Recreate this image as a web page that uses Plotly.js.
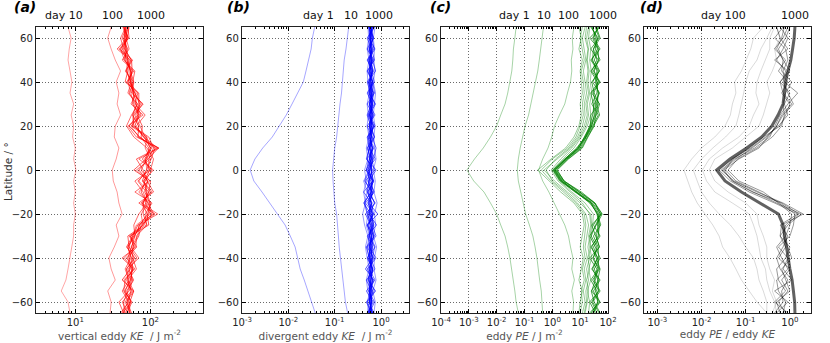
<!DOCTYPE html>
<html>
<head>
<meta charset="utf-8">
<script src="https://cdn.plot.ly/plotly-3.0.1.min.js"></script>
<style>
  html, body { margin: 0; padding: 0; background: #fff; }
  #chart { width: 830px; height: 343px; }
</style>
</head>
<body>
<div id="chart"></div>
<script>
// latitude grid shared by every profile (degrees)
const lat = [-65,-60,-55,-50,-45,-40,-35,-30,-25,-20,-15,-10,-5,0,5,10,15,20,25,30,35,40,45,50,55,60,65];

// (a) vertical eddy KE / J m-2
const keVertDay10  = [8.5,8.0,6.5,7.5,8.0,8.5,9.0,9.5,9.5,10,9.5,10,9.5,10.2,9.5,10,9.2,9.5,8.8,9.5,8.5,9.0,8.5,8.0,8.3,8.8,8.0];
const keVertDay100 = [29,30,27,34,30,28,33,38,35,42,38,36,32,31,35,38,33,34,40,36,38,35,40,34,30,27,30];
const keVertLate = [
  [42,50,45,55,48,60,52,58,65,100,80,95,70,90,85,120,70,55,72,60,55,50,58,45,40,48,45],
  [50,42,56,48,58,45,62,55,80,75,95,70,92,65,100,85,90,60,58,75,62,55,48,55,46,44,50],
  [46,55,48,60,50,70,55,68,70,125,75,105,80,110,70,130,65,50,80,55,65,48,60,42,52,47,43],
  [54,46,58,44,62,48,66,52,88,85,105,62,98,75,90,100,85,72,62,78,58,60,46,58,38,52,50],
  [40,52,42,52,46,55,50,62,60,70,90,80,62,100,110,90,60,48,56,68,50,56,55,48,44,40,47],
  [56,48,60,50,65,58,58,70,75,115,70,110,90,80,65,125,80,65,85,62,68,52,52,54,36,49,52],
  [44,38,52,58,52,66,52,50,82,95,100,88,68,95,95,110,95,58,60,80,56,58,62,44,50,42,48],
  [48,57,44,46,60,42,64,65,90,80,80,95,100,60,88,95,75,78,66,70,70,46,50,52,42,50,44],
  [52,50,55,50,48,62,48,58,68,110,92,75,85,105,78,105,88,56,75,64,52,60,54,50,48,46,51],
  [45,44,50,56,56,52,60,54,95,90,78,100,78,88,102,115,72,52,68,72,62,50,57,56,45,48,47],
  [53,53,60,42,54,50,56,62,72,92,98,84,92,70,92,128,68,70,58,66,59,55,48,50,40,51,44],
  [43,55,46,54,58,56,50,60,78,105,85,90,82,98,84,100,82,62,70,58,60,54,55,46,47,45,46]
];

// (b) divergent eddy KE / J m-2
const keDivDay1  = [0.038,0.032,0.026,0.022,0.018,0.016,0.014,0.011,0.0085,0.0058,0.004,0.0027,0.0018,0.0015,0.0019,0.0028,0.0045,0.0065,0.009,0.012,0.016,0.021,0.024,0.027,0.031,0.033,0.037];
const keDivDay10 = [0.19,0.17,0.16,0.15,0.14,0.135,0.125,0.12,0.115,0.11,0.10,0.095,0.092,0.09,0.095,0.1,0.11,0.115,0.12,0.13,0.14,0.145,0.15,0.16,0.175,0.185,0.2];
const keDivMid = [
  [0.55,0.50,0.58,0.52,0.60,0.54,0.50,0.56,0.48,0.52,0.44,0.50,0.42,0.55,0.50,0.56,0.52,0.58,0.54,0.60,0.52,0.58,0.55,0.60,0.52,0.57,0.55],
  [0.70,0.75,0.66,0.78,0.70,0.72,0.80,0.68,0.76,0.72,0.82,0.70,0.75,0.68,0.78,0.72,0.70,0.74,0.68,0.72,0.76,0.68,0.74,0.70,0.72,0.68,0.74],
  [0.50,0.56,0.52,0.48,0.55,0.50,0.46,0.52,0.44,0.40,0.46,0.42,0.48,0.44,0.52,0.48,0.55,0.50,0.53,0.50,0.56,0.52,0.50,0.55,0.50,0.54,0.52]
];
const keDivLate = [
  [0.62,0.48,0.72,0.55,0.66,0.50,0.75,0.58,0.52,0.70,0.46,0.72,0.55,0.64,0.50,0.70,0.56,0.68,0.52,0.72,0.60,0.50,0.70,0.54,0.66,0.58,0.70],
  [0.52,0.68,0.48,0.74,0.55,0.70,0.50,0.78,0.64,0.50,0.44,0.60,0.46,0.72,0.62,0.50,0.72,0.55,0.68,0.50,0.72,0.66,0.52,0.70,0.50,0.70,0.54],
  [0.70,0.55,0.62,0.48,0.74,0.58,0.66,0.50,0.80,0.55,0.62,0.42,0.66,0.50,0.75,0.56,0.50,0.74,0.58,0.66,0.50,0.72,0.62,0.52,0.74,0.54,0.66],
  [0.56,0.72,0.54,0.66,0.50,0.78,0.55,0.70,0.50,0.85,0.54,0.66,0.44,0.58,0.68,0.78,0.64,0.50,0.74,0.55,0.68,0.52,0.76,0.64,0.55,0.68,0.58],
  [0.66,0.50,0.76,0.52,0.62,0.56,0.48,0.72,0.60,0.46,0.75,0.52,0.70,0.48,0.56,0.66,0.52,0.70,0.55,0.76,0.54,0.66,0.50,0.72,0.62,0.50,0.72],
  [0.55,0.62,0.58,0.70,0.46,0.66,0.72,0.55,0.70,0.60,0.42,0.62,0.54,0.78,0.48,0.56,0.72,0.60,0.50,0.62,0.70,0.55,0.66,0.50,0.70,0.64,0.55],
  [0.63,0.57,0.62,0.60,0.65,0.52,0.60,0.62,0.50,0.68,0.62,0.52,0.66,0.60,0.64,0.56,0.60,0.57,0.64,0.56,0.62,0.66,0.58,0.62,0.56,0.60,0.63],
  [0.52,0.64,0.55,0.58,0.60,0.66,0.56,0.54,0.66,0.58,0.55,0.68,0.60,0.48,0.62,0.66,0.55,0.62,0.60,0.64,0.58,0.55,0.66,0.60,0.62,0.57,0.55],
  [0.60,0.60,0.66,0.54,0.58,0.60,0.64,0.68,0.58,0.52,0.64,0.50,0.55,0.64,0.58,0.52,0.62,0.68,0.58,0.57,0.66,0.60,0.56,0.65,0.58,0.66,0.62],
  [0.66,0.56,0.58,0.62,0.64,0.56,0.58,0.62,0.68,0.62,0.58,0.64,0.52,0.56,0.66,0.60,0.64,0.56,0.62,0.60,0.56,0.64,0.60,0.58,0.60,0.58,0.60],
  [0.56,0.62,0.60,0.66,0.55,0.64,0.62,0.57,0.62,0.56,0.72,0.57,0.68,0.62,0.56,0.64,0.58,0.60,0.66,0.62,0.60,0.58,0.64,0.62,0.57,0.62,0.56],
  [0.61,0.58,0.56,0.60,0.66,0.58,0.55,0.64,0.54,0.66,0.52,0.62,0.64,0.54,0.60,0.58,0.62,0.64,0.56,0.66,0.62,0.60,0.58,0.56,0.64,0.59,0.65]
];

// (c) eddy PE / J m-2
const peDay1   = [0.06,0.05,0.045,0.04,0.035,0.03,0.025,0.02,0.014,0.01,0.006,0.0035,0.0015,0.00085,0.0016,0.0033,0.006,0.01,0.014,0.02,0.025,0.03,0.035,0.038,0.04,0.045,0.05];
const peDay10  = [0.45,0.42,0.4,0.35,0.32,0.28,0.24,0.2,0.15,0.11,0.09,0.075,0.06,0.055,0.06,0.07,0.085,0.105,0.14,0.17,0.2,0.25,0.3,0.34,0.38,0.42,0.48];
const peDay100 = [5.5,5.8,5.0,6.2,5.0,5.5,4.5,3.8,2.8,1.8,1.2,0.75,0.45,0.32,0.45,0.7,0.95,1.2,1.8,2.8,3.5,4.5,5.0,4.8,5.5,5.2,6.0];
const peMid = [
  [12,15,13,16,14,18,15,17,20,16,8,3,1.0,0.6,1.3,4,8,12,15,14,17,15,13,16,14,12,15],
  [15,18,20,17,22,19,24,20,24,22,12,4.5,1.6,0.9,2.0,5,10,16,20,18,22,19,21,18,20,17,20],
  [10,12,11,14,12,15,13,14,16,14,7,2.5,0.9,0.4,1.0,3.5,7,10,13,12,14,13,11,14,12,10,12],
  [20,22,18,24,20,26,22,25,28,30,15,5,1.8,1.0,2.5,6,11,18,24,22,26,23,25,22,24,20,22],
  [14,17,16,20,17,22,19,22,26,24,10,3.5,1.2,0.5,1.5,4.5,9,14,18,16,20,17,19,17,19,15,17],
  [9,10,12,9,11,13,10,12,14,12,6,2,0.8,0.3,0.9,3,6,9,11,10,12,11,10,12,9,11,9]
];
const peLate = [
  [35,22,48,28,50,30,40,25,36,55,28,8,2.2,1.2,3.0,9,16,25,38,50,26,52,30,45,24,48,35],
  [25,45,30,52,26,44,24,48,42,45,22,7,2.0,1.1,2.8,8,15,22,28,32,50,28,48,26,42,28,44],
  [48,28,52,32,40,22,50,35,26,60,32,9,2.5,1.3,3.3,10,17,28,45,26,40,42,24,52,35,40,26],
  [22,50,35,42,52,38,26,44,50,40,25,6.5,1.9,1.05,2.9,7.5,15,24,24,48,32,26,50,32,48,22,52],
  [52,32,25,48,32,52,35,22,38,62,34,10,2.7,1.4,3.6,11,18,30,50,38,46,35,40,28,30,52,38],
  [30,42,40,24,45,28,48,38,46,48,26,7.5,2.1,1.15,3.1,8.5,16,26,32,30,24,46,32,46,44,34,28],
  [40,26,45,44,28,42,30,52,30,52,34,11,2.6,1.5,3.8,12,19,32,36,42,44,38,44,24,52,30,46],
  [28,52,26,35,44,46,44,30,55,42,24,7,2.3,1.25,3.2,9,14,23,34,36,30,50,26,40,30,44,24]
];

// (d) eddy PE / eddy KE
const ratioEarly = [
  [0.3,0.18,0.12,0.08,0.06,0.044,0.03,0.025,0.018,0.012,0.008,0.006,0.005,0.004,0.006,0.01,0.02,0.034,0.045,0.05,0.06,0.056,0.08,0.1,0.13,0.15,0.25],
  [0.3,0.3,0.25,0.2,0.18,0.15,0.1,0.07,0.045,0.025,0.015,0.01,0.008,0.0065,0.01,0.018,0.035,0.06,0.07,0.08,0.09,0.1,0.12,0.18,0.22,0.3,0.4],
  [0.5,0.45,0.35,0.3,0.28,0.22,0.2,0.18,0.15,0.12,0.05,0.02,0.013,0.0105,0.015,0.03,0.07,0.12,0.15,0.2,0.17,0.18,0.22,0.28,0.35,0.35,0.45],
  [0.4,0.5,0.4,0.45,0.35,0.3,0.3,0.25,0.2,0.18,0.1,0.04,0.02,0.015,0.02,0.05,0.1,0.2,0.25,0.3,0.35,0.3,0.4,0.5,0.45,0.6,0.5]
];
const ratioLate = [
  [0.8,0.55,0.9,0.65,1.0,0.55,0.8,0.6,0.9,1.8,0.5,0.15,0.05,0.03,0.06,0.14,0.3,0.5,0.7,1.2,0.9,0.7,0.8,0.5,0.7,0.9,0.6],
  [0.5,0.9,0.45,1.1,0.7,0.9,0.55,1.0,1.2,1.3,0.6,0.2,0.06,0.035,0.05,0.12,0.25,0.6,0.8,1.0,0.65,0.9,0.55,0.8,0.45,0.7,0.9],
  [0.9,0.45,0.8,0.55,0.5,0.8,1.0,0.6,0.65,2.0,0.7,0.18,0.055,0.028,0.055,0.16,0.35,0.45,0.6,0.9,1.5,0.75,0.7,0.9,0.8,0.45,0.7],
  [0.45,0.7,0.65,0.9,0.6,0.5,0.7,0.9,0.6,1.5,0.45,0.12,0.045,0.025,0.05,0.13,0.28,0.55,0.9,0.75,1.0,0.6,0.9,0.45,0.9,0.6,0.5],
  [0.7,0.8,0.55,0.5,0.9,0.65,0.5,0.8,1.0,1.1,0.55,0.25,0.07,0.04,0.065,0.18,0.4,0.65,0.75,0.7,0.8,1.1,0.65,0.7,0.55,0.8,1.0],
  [0.6,0.5,1.0,0.8,0.65,1.1,0.9,0.7,0.8,1.6,0.65,0.14,0.05,0.032,0.07,0.2,0.32,0.5,0.65,1.1,0.7,0.6,1.0,0.7,0.5,0.65,0.75]
];
const ratioMean = [1.3,1.28,1.2,1.12,1.0,0.92,0.85,0.78,0.7,0.55,0.21,0.08,0.034,0.022,0.044,0.105,0.23,0.39,0.54,0.7,0.75,0.8,0.9,1.05,1.15,1.25,1.3];

// top labels: text and the x value (data units) they sit over
const dayLabelsA = [['day 10', 7.1], ['100', 31], ['1000', 102]];
const dayLabelsB = [['day 1', 0.045], ['10', 0.22], ['1000', 0.9]];
const dayLabelsC = [['day 1', 0.042], ['10', 0.49], ['100', 3.9], ['1000', 66]];
const dayLabelsD = [['day 100', 0.031], ['1000', 1.3]];

const font = 'DejaVu Sans, Arial, sans-serif';
const traces = [];

function profile(xs, axis, color, opacity, width) {
    traces.push({
        x: xs, y: lat, xaxis: 'x' + axis, yaxis: 'y' + axis,
        type: 'scatter', mode: 'lines',
        line: { color: color, width: width || 1 },
        opacity: opacity, hoverinfo: 'skip', showlegend: false
    });
}

profile(keVertDay10, '', '#ff0000', 0.35);
profile(keVertDay100, '', '#ff0000', 0.4);
keVertLate.forEach((xs, i) => profile(xs, '', '#ff0000', 0.5 + 0.02 * i));

profile(keDivDay1, '2', '#0000ff', 0.35);
profile(keDivDay10, '2', '#0000ff', 0.35);
keDivMid.forEach(xs => profile(xs, '2', '#0000ff', 0.4));
keDivLate.forEach((xs, i) => profile(xs, '2', '#0000ff', 0.55 + 0.02 * i));

profile(peDay1, '3', '#008000', 0.35);
profile(peDay10, '3', '#008000', 0.35);
profile(peDay100, '3', '#008000', 0.35);
peMid.forEach(xs => profile(xs, '3', '#008000', 0.4));
peLate.forEach(xs => profile(xs, '3', '#008000', 0.7));

ratioEarly.forEach(xs => profile(xs, '4', '#000000', 0.15));
ratioLate.forEach(xs => profile(xs, '4', '#000000', 0.4));
profile(ratioMean, '4', '#000000', 0.62, 3);

// panel frames in pixels (left, right); all share top 27 / bottom 313
const W = 830, H = 343;
const yDomain = [1 - 313 / H, 1 - 27 / H];

function logTicks(lo, hi) {
    const vals = [], text = [];
    for (let p = lo; p <= hi; p++) {
        vals.push(Math.pow(10, p));
        text.push('10<sup>' + p + '</sup>');
    }
    return { vals, text };
}

const gridStyle = { showgrid: true, gridcolor: '#6a6a6a', griddash: '1px,2px', gridwidth: 1 };

function xAxis(left, right, range, lo, hi, title) {
    const t = logTicks(lo, hi);
    return Object.assign({
        domain: [left / W, right / W], type: 'log',
        range: [Math.log10(range[0]), Math.log10(range[1])],
        tickmode: 'array', tickvals: t.vals, ticktext: t.text,
        ticks: 'inside', ticklen: 4, tickcolor: '#000',
        minor: { ticks: 'inside', ticklen: 2, tickcolor: '#000', dtick: 'D1', showgrid: false },
        showline: true, linecolor: '#222', linewidth: 1.2, mirror: 'ticks',
        zeroline: false, tickfont: { family: font, size: 10, color: '#222' },
        title: { text: title, font: { family: font, size: 10.5, color: '#555' }, standoff: 2 },
        automargin: false, fixedrange: true
    }, gridStyle);
}

function yAxis(anchor) {
    return Object.assign({
        domain: yDomain, anchor: anchor, range: [-65, 65],
        tickmode: 'array', tickvals: [-60, -40, -20, 0, 20, 40, 60],
        ticks: 'inside', ticklen: 4, tickcolor: '#000',
        showline: true, linecolor: '#222', linewidth: 1.2, mirror: 'ticks',
        zeroline: false, tickfont: { family: font, size: 10, color: '#222' },
        automargin: false, fixedrange: true
    }, gridStyle);
}

const annotations = [];
function topLabels(list, axis) {
    list.forEach(([text, v]) => annotations.push({
        text: text, x: Math.log10(v), xref: 'x' + axis, y: 1 - 15 / H, yref: 'paper',
        showarrow: false, xanchor: 'center', yanchor: 'middle',
        font: { family: font, size: 11, color: '#111' }
    }));
}
topLabels(dayLabelsA, '');
topLabels(dayLabelsB, '2');
topLabels(dayLabelsC, '3');
topLabels(dayLabelsD, '4');

[['(a)', 25], ['(b)', 238], ['(c)', 440], ['(d)', 651]].forEach(([text, px]) => annotations.push({
    text: '<b><i>' + text + '</i></b>', x: px / W, xref: 'paper', y: 1 - 7 / H, yref: 'paper',
    showarrow: false, xanchor: 'center', yanchor: 'middle',
    font: { family: font, size: 14, color: '#000' }
}));

annotations.push({
    text: 'Latitude / °', x: 8 / W, xref: 'paper', y: 1 - 172 / H, yref: 'paper',
    textangle: -90, showarrow: false, xanchor: 'center', yanchor: 'middle',
    font: { family: font, size: 10.5, color: '#333' }
});

const layout = {
    width: W, height: H,
    margin: { l: 0, r: 0, t: 0, b: 0 },
    paper_bgcolor: '#fff', plot_bgcolor: '#fff',
    showlegend: false,
    xaxis:  xAxis(36, 203, [3, 500], 1, 2, 'vertical eddy <i>KE</i>  / J m<sup>-2</sup>'),
    xaxis2: xAxis(242, 409, [1e-3, 4], -3, 0, 'divergent eddy <i>KE</i>  / J m<sup>-2</sup>'),
    xaxis3: xAxis(441, 608, [1e-4, 100], -4, 2, 'eddy <i>PE</i> / J m<sup>-2</sup>'),
    xaxis4: xAxis(644, 811, [5e-4, 3], -3, 0, 'eddy <i>PE</i> / eddy <i>KE</i>'),
    yaxis:  yAxis('x'),
    yaxis2: yAxis('x2'),
    yaxis3: yAxis('x3'),
    yaxis4: yAxis('x4'),
    annotations: annotations
};

Plotly.newPlot('chart', traces, layout, { displayModeBar: false, staticPlot: true });
</script>
</body>
</html>
